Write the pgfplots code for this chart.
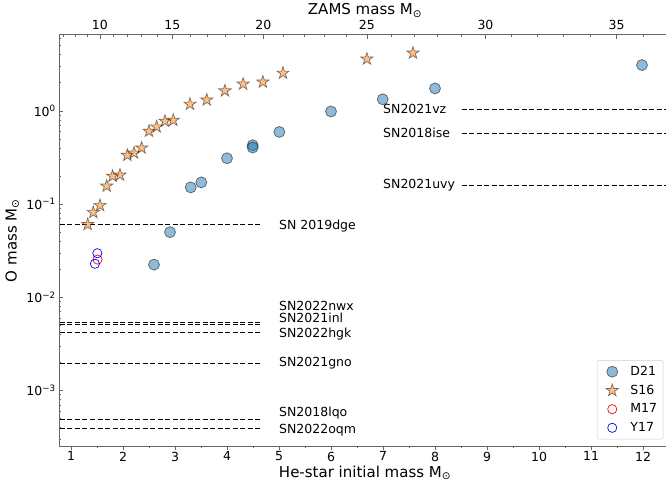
\documentclass[border=0pt]{standalone}
\usepackage{fontspec}
\setmainfont{DejaVu Sans}
\usepackage{pgfplots}
\pgfplotsset{compat=1.18}
\definecolor{tabblue}{HTML}{1F77B4}
\definecolor{taborange}{HTML}{FF7F0E}
\pgfdeclareplotmark{fstar}{%
  \pgfpathmoveto{\pgfpointpolar{90}{\pgfplotmarksize}}%
  \pgfpathlineto{\pgfpointpolar{126}{0.382\pgfplotmarksize}}%
  \pgfpathlineto{\pgfpointpolar{162}{\pgfplotmarksize}}%
  \pgfpathlineto{\pgfpointpolar{198}{0.382\pgfplotmarksize}}%
  \pgfpathlineto{\pgfpointpolar{234}{\pgfplotmarksize}}%
  \pgfpathlineto{\pgfpointpolar{270}{0.382\pgfplotmarksize}}%
  \pgfpathlineto{\pgfpointpolar{306}{\pgfplotmarksize}}%
  \pgfpathlineto{\pgfpointpolar{342}{0.382\pgfplotmarksize}}%
  \pgfpathlineto{\pgfpointpolar{18}{\pgfplotmarksize}}%
  \pgfpathlineto{\pgfpointpolar{54}{0.382\pgfplotmarksize}}%
  \pgfpathclose
  \pgfusepathqfillstroke}
\newcommand{\tickfont}{\fontsize{12.5}{14}\selectfont}
\newcommand{\labfont}{\fontsize{15}{18}\selectfont}
\begin{document}
\begin{tikzpicture}
\useasboundingbox (-59.3pt,-38.7pt) rectangle (606.7pt,446.3pt);
\begin{axis}[
  scale only axis, width=606.7pt, height=411.6pt,
  xmin=0.775, xmax=12.442,
  ymode=log, ymin=2.52e-4, ymax=6.56,
  axis x line*=bottom, axis y line*=left,
  axis line style={black!60, line width=0.8pt},
  xtick={1,2,3,4,5,6,7,8,9,10,11,12}, minor x tick num=1,
  xtick align=outside, ytick align=inside,
  ytick={1e-3,1e-2,1e-1,1},
  yticklabels={10\textsuperscript{−3},10\textsuperscript{−2},10\textsuperscript{−1},10\textsuperscript{0}},
  minor ytick={3e-4,4e-4,5e-4,6e-4,7e-4,8e-4,9e-4,2e-3,3e-3,4e-3,5e-3,6e-3,7e-3,8e-3,9e-3,2e-2,3e-2,4e-2,5e-2,6e-2,7e-2,8e-2,9e-2,0.2,0.3,0.4,0.5,0.6,0.7,0.8,0.9,2,3,4,5,6},
  major tick length=4pt, minor tick length=2pt,
  major tick style={black!60, line width=0.7pt},
  minor tick style={black!60, line width=0.6pt},
  ticklabel style={font=\tickfont},
  xticklabel style={yshift=2pt},
  /pgf/number format/assume math mode=true,
  xlabel={He-star initial mass M\textsubscript{⊙}},
  ylabel={O mass M\textsubscript{⊙}},
  every axis x label/.style={at={(axis description cs:0.504,-0.0746)}, anchor=base, font=\labfont},
  every axis y label/.style={at={(axis description cs:-0.0775,0.5)}, anchor=center, rotate=90, font=\labfont},
  legend style={at={(axis description cs:0.9956,0.017)}, anchor=south east, draw=black!20, rounded corners=2pt, fill=white, font=\tickfont, row sep=4pt, inner xsep=4pt, inner ysep=4pt},
  legend cell align=left,
  legend image code/.code={\path (-11pt,0pt) (16pt,0pt); \draw[#1] plot coordinates {(0pt,0pt)};},
]
\addplot[only marks, mark=*, mark size=5.5pt, mark options={fill=tabblue, fill opacity=0.5, draw=black, draw opacity=0.5, line width=0.8pt}] coordinates {
 (2.596,0.0224) (2.904,0.050) (3.302,0.151) (3.506,0.171) (4.0,0.31) (4.494,0.428) (4.494,0.404) (5.006,0.594) (6.0,0.985) (6.994,1.33) (8.0,1.74) (11.98,3.1)};
\addlegendentry{D21}
\addplot[only marks, mark=fstar, mark size=6.5pt, mark options={fill=taborange, fill opacity=0.5, draw=black, draw opacity=0.5, line width=0.7pt}] coordinates {
 (1.321,0.0605) (1.429,0.0814) (1.558,0.0968) (1.686,0.156) (1.80,0.199) (1.942,0.205) (2.083,0.334) (2.212,0.353) (2.359,0.400) (2.50,0.605) (2.648,0.673) (2.808,0.775) (2.967,0.794) (3.288,1.18) (3.61,1.31) (3.96,1.64) (4.31,1.94) (4.69,2.04) (5.077,2.54) (6.69,3.6) (7.577,4.17)};
\addlegendentry{S16}
\addplot[only marks, mark=o, mark size=4.6pt, mark options={draw=red, line width=0.7pt}] coordinates {(1.51,0.0254)};
\addlegendentry{M17}
\addplot[only marks, mark=o, mark size=4.6pt, mark options={draw=blue, line width=0.7pt}] coordinates {(1.506,0.0297) (1.46,0.0229)};
\addlegendentry{Y17}
% dashed SN lines
\pgfplotsset{snline/.style={forget plot, black, line width=1pt, dash pattern=on 5pt off 2.5pt}}
\addplot[snline] coordinates {(0.5,0.06) (4.654,0.06)};
\addplot[snline] coordinates {(0.5,0.0053) (4.654,0.0053)};
\addplot[snline] coordinates {(0.5,0.00508) (4.654,0.00508)};
\addplot[snline] coordinates {(0.5,0.00414) (4.654,0.00414)};
\addplot[snline] coordinates {(0.5,0.00197) (4.654,0.00197)};
\addplot[snline] coordinates {(0.5,0.00049) (4.654,0.00049)};
\addplot[snline] coordinates {(0.5,0.00039) (4.654,0.00039)};
\addplot[snline] coordinates {(8.51,1.03) (13,1.03)};
\addplot[snline] coordinates {(8.51,0.57) (13,0.57)};
\addplot[snline] coordinates {(8.51,0.159) (13,0.159)};
\begin{scope}[every node/.style={anchor=west, inner sep=0pt, font=\tickfont, text height=9pt, text depth=0pt}]
\node at (axis cs:5.0,0.06) {SN 2019dge};
\node at (axis cs:5.0,0.0081) {SN2022nwx};
\node at (axis cs:5.0,0.0060) {SN2021inl};
\node at (axis cs:5.0,0.00415) {SN2022hgk};
\node at (axis cs:5.0,0.002) {SN2021gno};
\node at (axis cs:5.0,0.00059) {SN2018lqo};
\node at (axis cs:5.0,0.00039) {SN2022oqm};
\node at (axis cs:7.0,1.04) {SN2021vz};
\node at (axis cs:7.0,0.574) {SN2018ise};
\node at (axis cs:7.0,0.163) {SN2021uvy};
\end{scope}
\end{axis}
\begin{axis}[
  scale only axis, width=606.7pt, height=411.6pt,
  xmin=0.775, xmax=12.442, ymin=0, ymax=1,
  axis x line*=top, axis y line=none,
  axis line style={black!60, line width=0.8pt},
  xtick={1.555,2.95,4.70,6.69,8.97,11.49},
  xticklabels={10,15,20,25,30,35},
  minor xtick={0.86,1.09,1.32,1.81,2.08,2.36,2.66,3.29,3.63,3.97,4.33,5.08,5.48,5.88,6.29,7.15,7.60,8.05,8.51,9.47,9.96,10.47,10.98,12.0},
  xtick align=inside,
  major tick length=4pt, minor tick length=2pt,
  major tick style={black!60, line width=0.7pt},
  minor tick style={black!60, line width=0.6pt},
  ticklabel style={font=\tickfont},
  xticklabel style={yshift=1pt},
  /pgf/number format/assume math mode=true,
  xlabel={ZAMS mass M\textsubscript{⊙}},
  every axis x label/.style={at={(axis description cs:0.504,1)}, anchor=base, yshift=19.7pt, font=\labfont},
]
\addplot[draw=none, forget plot] coordinates {(1,0.5)};
\end{axis}
\end{tikzpicture}
\end{document}
